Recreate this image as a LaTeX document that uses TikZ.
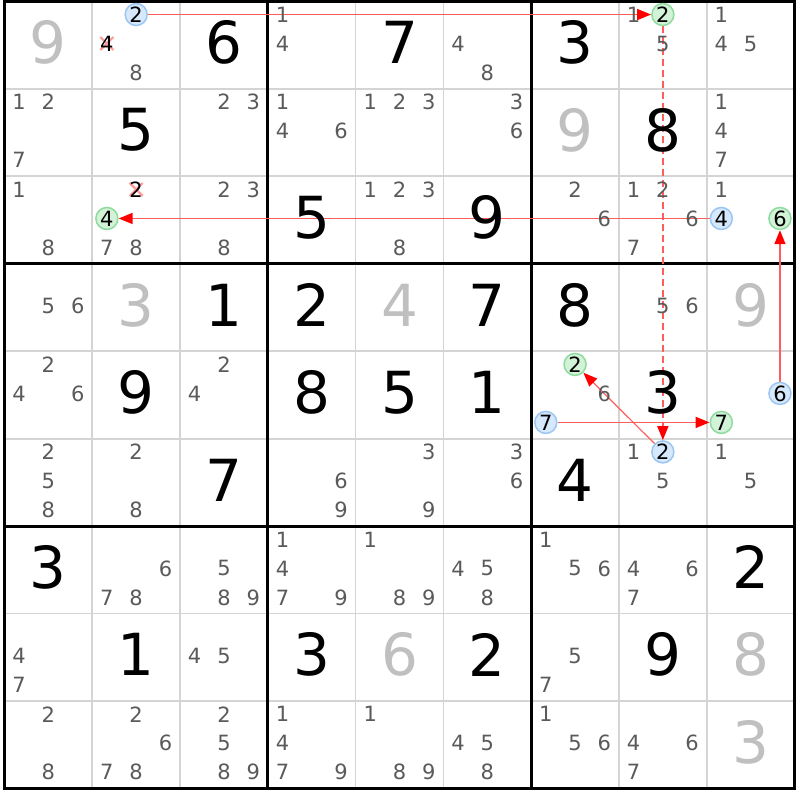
\documentclass[tikz,border=0pt]{standalone}
\usepackage{fontspec}
\setmainfont{DejaVu Sans}
\usetikzlibrary{arrows.meta}
\pgfdeclarelayer{gridl}
\pgfdeclarelayer{arrl}
\pgfsetlayers{gridl,arrl,main}
\definecolor{candgray}{HTML}{5A5A5A}
\definecolor{givgray}{HTML}{C0C0C0}
\definecolor{thingray}{HTML}{D4D4D4}
\definecolor{bfill}{HTML}{D6E8FC}
\definecolor{bline}{HTML}{9CC6F2}
\definecolor{gfill}{HTML}{D3F3D8}
\definecolor{gline}{HTML}{8EDB9E}
\definecolor{linkred}{HTML}{FF5C5C}
\definecolor{crossred}{HTML}{FF9A9A}
\newcommand\setcell[2]{\pgfmathsetmacro\ccx{4.5+87.78*(#2+0.5)}\pgfmathsetmacro\ccy{1.3+87.47*(#1+0.5)}}
\newcommand\setcand[3]{\setcell{#1}{#2}\pgfmathsetmacro\px{\ccx+29.3*(mod(#3-1,3)-1)}\pgfmathsetmacro\py{\ccy-1.5+29*(floor((#3-1)/3)-1)}}
\tikzset{
  bigdig/.style={inner sep=0pt, font=\fontsize{58}{58}\selectfont},
  cand/.style={inner sep=0pt, font=\fontsize{21}{21}\selectfont, text=candgray},
  markd/.style={inner sep=0pt, font=\fontsize{21}{21}\selectfont, text=black},
  bluec/.style={circle, draw=bline, fill=bfill, line width=1.5pt, minimum size=22pt, inner sep=0pt, font=\fontsize{21}{21}\selectfont, text=black},
  greenc/.style={circle, draw=gline, fill=gfill, line width=1.5pt, minimum size=22pt, inner sep=0pt, font=\fontsize{21}{21}\selectfont, text=black},
  link/.style={draw=linkred, line width=1.6pt, -{Triangle[length=14pt,width=11pt,color=red]}},
  crossmark/.style={draw=crossred, line width=2.2pt},
  thinline/.style={draw=thingray, line width=1.7pt},
  boxline/.style={draw=black, line width=3pt},
}
\begin{document}
\begin{tikzpicture}[x=1pt,y=-1pt]
\useasboundingbox (0,0) rectangle (800,800);
\begin{pgfonlayer}{gridl}
\fill[white] (0,0) rectangle (800,800);
\foreach \i in {1,2,4,5,7,8}{
  \pgfmathsetmacro\gx{4.5+87.78*\i}
  \pgfmathsetmacro\gy{1.3+87.47*\i}
  \draw[thinline] (\gx,1.3) -- (\gx,788.5);
  \draw[thinline] (4.5,\gy) -- (794.5,\gy);
}
\foreach \i in {3,6}{
  \pgfmathsetmacro\gx{4.5+87.78*\i}
  \pgfmathsetmacro\gy{1.3+87.47*\i}
  \draw[boxline] (\gx,1.3) -- (\gx,788.5);
  \draw[boxline] (4.5,\gy) -- (794.5,\gy);
}
\draw[black, line width=3.5pt] (4.5,1.3) rectangle (794.5,788.5);
\end{pgfonlayer}
% big digits
\foreach \r/\c/\d/\col in {
  0/0/9/givgray, 0/2/6/black, 0/4/7/black, 0/6/3/black,
  1/1/5/black, 1/6/9/givgray, 1/7/8/black,
  2/3/5/black, 2/5/9/black,
  3/1/3/givgray, 3/2/1/black, 3/3/2/black, 3/4/4/givgray, 3/5/7/black, 3/6/8/black, 3/8/9/givgray,
  4/1/9/black, 4/3/8/black, 4/4/5/black, 4/5/1/black, 4/7/3/black,
  5/2/7/black, 5/6/4/black,
  6/0/3/black, 6/8/2/black,
  7/1/1/black, 7/3/3/black, 7/4/6/givgray, 7/5/2/black, 7/7/9/black, 7/8/8/givgray,
  8/8/3/givgray}{
  \setcell{\r}{\c}
  \node[bigdig, text=\col] (g\r\c) at (\ccx,\ccy-2.5) {\d};
}
% plain candidates
\foreach \r/\c/\lst in {
  0/1/{8}, 0/3/{1,4}, 0/5/{4,8}, 0/7/{1,5}, 0/8/{1,4,5},
  1/0/{1,2,7}, 1/2/{2,3}, 1/3/{1,4,6}, 1/4/{1,2,3}, 1/5/{3,6}, 1/8/{1,4,7},
  2/0/{1,8}, 2/1/{7,8}, 2/2/{2,3,8}, 2/4/{1,2,3,8}, 2/6/{2,6}, 2/7/{1,2,6,7}, 2/8/{1},
  3/0/{5,6}, 3/7/{5,6},
  4/0/{2,4,6}, 4/2/{2,4}, 4/6/{6},
  5/0/{2,5,8}, 5/1/{2,8}, 5/3/{6,9}, 5/4/{3,9}, 5/5/{3,6}, 5/7/{1,5}, 5/8/{1,5},
  6/1/{6,7,8}, 6/2/{5,8,9}, 6/3/{1,4,7,9}, 6/4/{1,8,9}, 6/5/{4,5,8}, 6/6/{1,5,6}, 6/7/{4,6,7},
  7/0/{4,7}, 7/2/{4,5}, 7/6/{5,7},
  8/0/{2,8}, 8/1/{2,6,7,8}, 8/2/{2,5,8,9}, 8/3/{1,4,7,9}, 8/4/{1,8,9}, 8/5/{4,5,8}, 8/6/{1,5,6}, 8/7/{4,6,7}}{
  \foreach \d in \lst {
    \setcand{\r}{\c}{\d}
    \node[cand] (c\r\c\d) at (\px,\py) {\d};
  }
}
% crossed-out candidates
\setcand{0}{1}{4}
\draw[crossmark] (\px-6.5,\py-6.5) -- (\px+6.5,\py+6.5) (\px-6.5,\py+6.5) -- (\px+6.5,\py-6.5);
\node[markd] (x014) at (\px,\py) {4};
\setcand{2}{1}{2}
\draw[crossmark] (\px-6.5,\py-6.5) -- (\px+6.5,\py+6.5) (\px-6.5,\py+6.5) -- (\px+6.5,\py-6.5);
\node[markd] (x212) at (\px,\py) {2};
% circled candidates
\setcand{0}{1}{2}\node[bluec] (b012) at (\px,\py) {2};
\setcand{2}{8}{4}\node[bluec] (b284) at (\px,\py) {4};
\setcand{4}{8}{6}\node[bluec] (b486) at (\px,\py) {6};
\setcand{4}{6}{7}\node[bluec] (b467) at (\px,\py) {7};
\setcand{5}{7}{2}\node[bluec] (b572) at (\px,\py) {2};
\setcand{0}{7}{2}\node[greenc] (g072) at (\px,\py) {2};
\setcand{2}{1}{4}\node[greenc] (g214) at (\px,\py) {4};
\setcand{2}{8}{6}\node[greenc] (g286) at (\px,\py) {6};
\setcand{4}{6}{2}\node[greenc] (g462) at (\px,\py) {2};
\setcand{4}{8}{7}\node[greenc] (g487) at (\px,\py) {7};
% links
\begin{pgfonlayer}{arrl}
\draw[link] (b012) -- (g072);
\draw[link, dash pattern=on 7pt off 4pt] (g072) -- (b572);
\draw[link] (b284) -- (g214);
\draw[link] (b486) -- (g286);
\draw[link] (b467) -- (g487);
\draw[link, line width=1.2pt] (b572) -- (g462);
\end{pgfonlayer}
\end{tikzpicture}
\end{document}
